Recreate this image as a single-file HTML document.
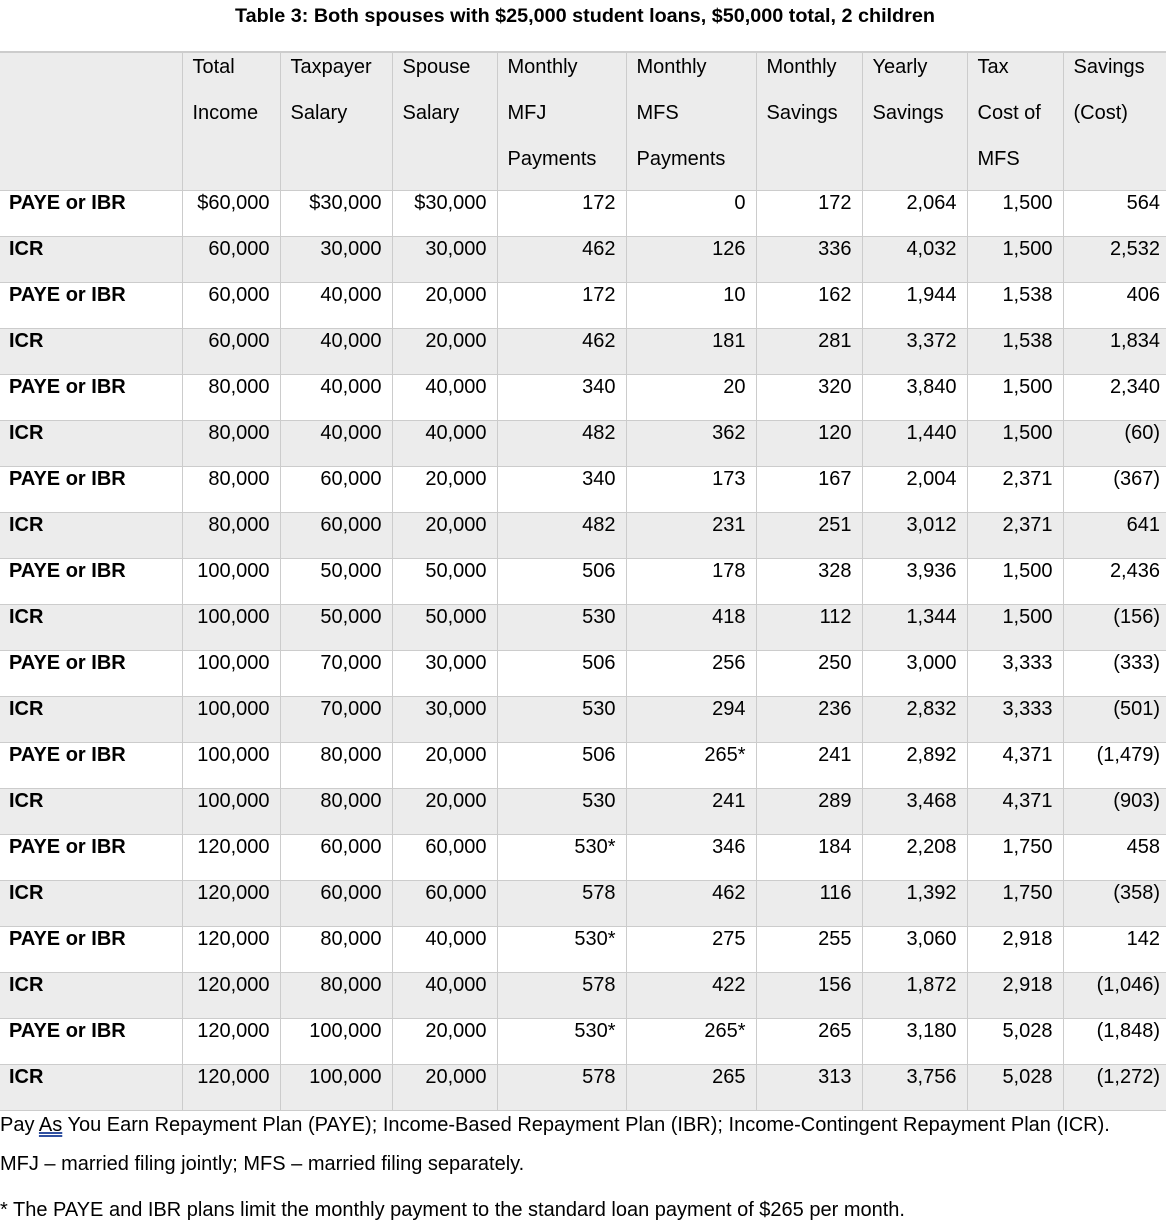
<!DOCTYPE html>
<html><head><meta charset="utf-8"><style>
body{margin:0;width:1166px;height:1223px;background:#fff;font-family:"Liberation Sans",Arial,sans-serif;color:#000;position:relative;overflow:hidden}
.title{position:absolute;top:5px;left:0;width:1170px;text-align:center;font-weight:bold;font-size:19.8px}
table{position:absolute;top:51px;left:0;border-collapse:collapse;table-layout:fixed;font-size:20px}
td{border:1px solid #cccccc;padding:0 10px;vertical-align:top;height:45px;line-height:24px;white-space:nowrap}
tr.h td{background:#ececec;height:137px;line-height:46px;text-align:left;vertical-align:top}
tr.h td div{margin-top:-9px}
tr td{text-align:right}
tr td:first-child{text-align:left;font-weight:bold;border-left:none;padding-left:9px}
tr td:last-child{border-right:none;padding-right:6px}
tr.g td{background:#ececec}
table{border-top:2px solid #cccccc}
.f{position:absolute;left:0;font-size:20px}
</style></head><body>
<div class="title">Table 3: Both spouses with $25,000 student loans, $50,000 total, 2 children</div>
<table>
<colgroup><col style="width:182px"><col style="width:98px"><col style="width:112px"><col style="width:105px"><col style="width:129px"><col style="width:130px"><col style="width:106px"><col style="width:105px"><col style="width:96px"><col style="width:103px"></colgroup>
<tr class="h"><td></td><td style="font-weight:normal"><div>Total<br>Income</div></td><td><div>Taxpayer<br>Salary</div></td><td><div>Spouse<br>Salary</div></td><td><div>Monthly<br>MFJ<br>Payments</div></td><td><div>Monthly<br>MFS<br>Payments</div></td><td><div>Monthly<br>Savings</div></td><td><div>Yearly<br>Savings</div></td><td><div>Tax<br>Cost of<br>MFS</div></td><td style="text-align:left;padding-left:10px"><div>Savings<br>(Cost)</div></td></tr>
<tr><td>PAYE or IBR</td><td>$60,000</td><td>$30,000</td><td>$30,000</td><td>172</td><td>0</td><td>172</td><td>2,064</td><td>1,500</td><td>564</td></tr>
<tr class="g"><td>ICR</td><td>60,000</td><td>30,000</td><td>30,000</td><td>462</td><td>126</td><td>336</td><td>4,032</td><td>1,500</td><td>2,532</td></tr>
<tr><td>PAYE or IBR</td><td>60,000</td><td>40,000</td><td>20,000</td><td>172</td><td>10</td><td>162</td><td>1,944</td><td>1,538</td><td>406</td></tr>
<tr class="g"><td>ICR</td><td>60,000</td><td>40,000</td><td>20,000</td><td>462</td><td>181</td><td>281</td><td>3,372</td><td>1,538</td><td>1,834</td></tr>
<tr><td>PAYE or IBR</td><td>80,000</td><td>40,000</td><td>40,000</td><td>340</td><td>20</td><td>320</td><td>3,840</td><td>1,500</td><td>2,340</td></tr>
<tr class="g"><td>ICR</td><td>80,000</td><td>40,000</td><td>40,000</td><td>482</td><td>362</td><td>120</td><td>1,440</td><td>1,500</td><td>(60)</td></tr>
<tr><td>PAYE or IBR</td><td>80,000</td><td>60,000</td><td>20,000</td><td>340</td><td>173</td><td>167</td><td>2,004</td><td>2,371</td><td>(367)</td></tr>
<tr class="g"><td>ICR</td><td>80,000</td><td>60,000</td><td>20,000</td><td>482</td><td>231</td><td>251</td><td>3,012</td><td>2,371</td><td>641</td></tr>
<tr><td>PAYE or IBR</td><td>100,000</td><td>50,000</td><td>50,000</td><td>506</td><td>178</td><td>328</td><td>3,936</td><td>1,500</td><td>2,436</td></tr>
<tr class="g"><td>ICR</td><td>100,000</td><td>50,000</td><td>50,000</td><td>530</td><td>418</td><td>112</td><td>1,344</td><td>1,500</td><td>(156)</td></tr>
<tr><td>PAYE or IBR</td><td>100,000</td><td>70,000</td><td>30,000</td><td>506</td><td>256</td><td>250</td><td>3,000</td><td>3,333</td><td>(333)</td></tr>
<tr class="g"><td>ICR</td><td>100,000</td><td>70,000</td><td>30,000</td><td>530</td><td>294</td><td>236</td><td>2,832</td><td>3,333</td><td>(501)</td></tr>
<tr><td>PAYE or IBR</td><td>100,000</td><td>80,000</td><td>20,000</td><td>506</td><td>265*</td><td>241</td><td>2,892</td><td>4,371</td><td>(1,479)</td></tr>
<tr class="g"><td>ICR</td><td>100,000</td><td>80,000</td><td>20,000</td><td>530</td><td>241</td><td>289</td><td>3,468</td><td>4,371</td><td>(903)</td></tr>
<tr><td>PAYE or IBR</td><td>120,000</td><td>60,000</td><td>60,000</td><td>530*</td><td>346</td><td>184</td><td>2,208</td><td>1,750</td><td>458</td></tr>
<tr class="g"><td>ICR</td><td>120,000</td><td>60,000</td><td>60,000</td><td>578</td><td>462</td><td>116</td><td>1,392</td><td>1,750</td><td>(358)</td></tr>
<tr><td>PAYE or IBR</td><td>120,000</td><td>80,000</td><td>40,000</td><td>530*</td><td>275</td><td>255</td><td>3,060</td><td>2,918</td><td>142</td></tr>
<tr class="g"><td>ICR</td><td>120,000</td><td>80,000</td><td>40,000</td><td>578</td><td>422</td><td>156</td><td>1,872</td><td>2,918</td><td>(1,046)</td></tr>
<tr><td>PAYE or IBR</td><td>120,000</td><td>100,000</td><td>20,000</td><td>530*</td><td>265*</td><td>265</td><td>3,180</td><td>5,028</td><td>(1,848)</td></tr>
<tr class="g"><td>ICR</td><td>120,000</td><td>100,000</td><td>20,000</td><td>578</td><td>265</td><td>313</td><td>3,756</td><td>5,028</td><td>(1,272)</td></tr>
</table>
<div class="f" style="top:1114px">Pay <span style="text-decoration:underline double #3050a0">As</span> You Earn Repayment Plan (PAYE); Income-Based Repayment Plan (IBR); Income-Contingent Repayment Plan (ICR).</div>
<div class="f" style="top:1153px">MFJ – married filing jointly; MFS – married filing separately.</div>
<div class="f" style="top:1199px">* The PAYE and IBR plans limit the monthly payment to the standard loan payment of $265 per month.</div>
</body></html>
